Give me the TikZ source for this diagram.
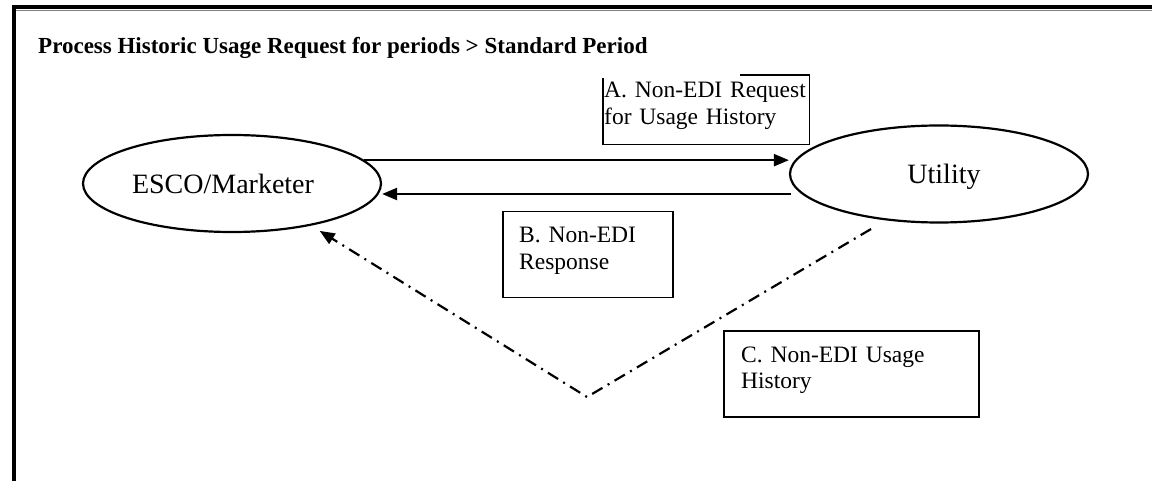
\documentclass[tikz,border=0pt]{standalone}
\usepackage{fontspec}
\setmainfont{Liberation Serif}
\usetikzlibrary{arrows.meta,shapes.geometric,calc}

\tikzset{
  party/.style = {draw, ellipse, line width = 2.2pt, inner sep = 0pt,
    minimum width = 298pt, minimum height = 97pt, font = \fontsize{28}{32}\selectfont},
  msg/.style = {line width = 2.2pt, -{Triangle[length = 15pt, width = 12pt]}},
  msgbox/.style = {draw, line width = 1.5pt, inner sep = 0pt, anchor = north west},
  msgtext/.style = {anchor = base west, inner sep = 0pt, align = left, text width = 250pt,
    font = \fontsize{23.5}{27}\selectfont},
  dashdot/.style = {line width = 2.2pt, dash pattern = on 12pt off 6pt on 2pt off 6pt}
}

\begin{document}
\begin{tikzpicture}[x = 1pt, y = -1pt]
\useasboundingbox (0,0) rectangle (1152,481);
% frame
\draw[line width = 4.5pt] (12,7) -- (1152,7);
\draw[gray, line width = 0.8pt] (16,10) -- (1152,10);
\draw[line width = 4pt] (14,5) -- (14,481);

\node[anchor = base west, inner sep = 0pt, font = \fontsize{23}{27}\bfseries] (title) at (38,54)
  {Process Historic Usage Request for periods > Standard Period};

\node[party] (esco) at (232,183.5) {\hspace*{-18pt}ESCO/Marketer};
\node[party, text depth = 0pt] (util) at (939,174) {\hspace*{10pt}Utility};

% A
\node[msgbox, minimum width = 205pt, minimum height = 68pt, draw = none] (boxA) at (603,75) {};
\draw[line width = 1.5pt] ([xshift = 137pt]boxA.north west) -- (boxA.north east)
  -- (boxA.south east) -- (boxA.south west) -- ([yshift = -3pt]boxA.north west);
\node[msgtext] (txtA) at (604,98) {A. Non-EDI Request\\for Usage History};
\draw[msg] (esco.10) -- (esco.10 -| util.west);

% B
\coordinate (bstart) at ($(util.west)+(2,20)$);
\draw[msg] (bstart) -- (bstart -| esco.east);
\node[msgbox, minimum width = 170pt, minimum height = 86pt] (boxB) at (502,211) {};
\node[msgtext] (txtB) at (519,243) {B. Non-EDI\\Response};

% C
\coordinate (vtx) at (587,397);
\draw[dashdot, -{Triangle[length = 15pt, width = 12pt]}, shorten <= 17pt, shorten >= 10pt]
  (util.221) -- (vtx) -- (esco.-28);
\node[msgbox, minimum width = 255pt, minimum height = 86pt] (boxC) at (723,330) {};
\node[msgtext] (txtC) at (741,362) {C. Non-EDI Usage\\History};
\end{tikzpicture}
\end{document}
